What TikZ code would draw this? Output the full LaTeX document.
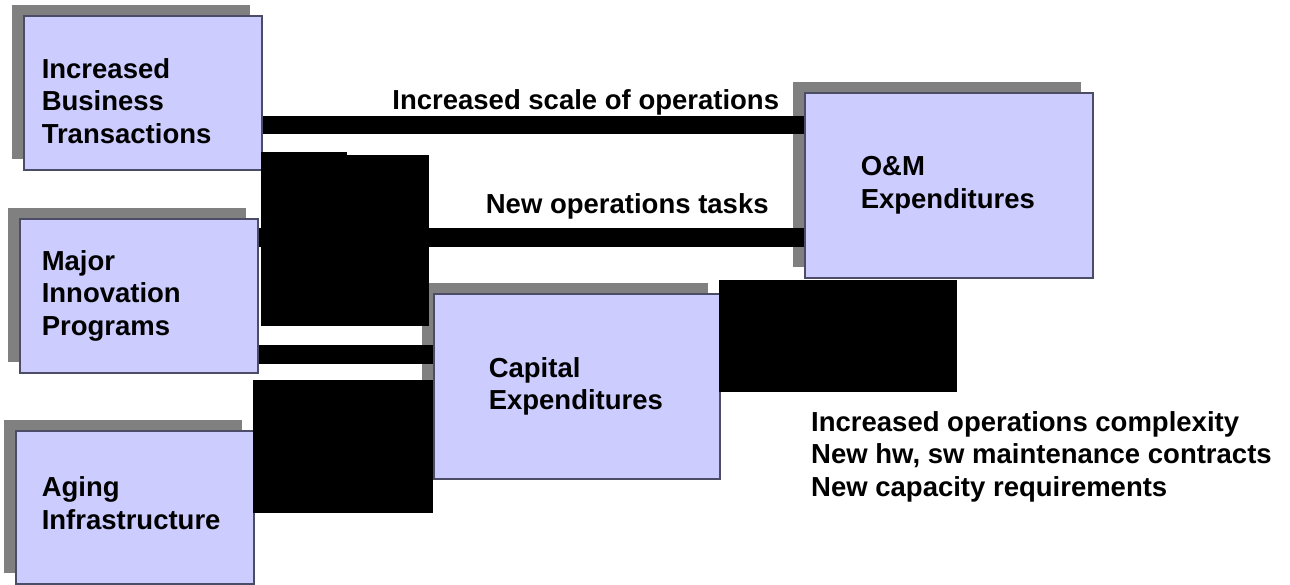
\documentclass[tikz,border=0pt]{standalone}
\usepackage{fontspec}
\setmainfont{Liberation Sans}
\usepackage{tikz}
\usetikzlibrary{shadows}
\usetikzlibrary{positioning}

\definecolor{boxfill}{HTML}{CCCCFF}
\definecolor{shadowgray}{HTML}{808080}
\definecolor{boxline}{HTML}{4C4C66}

\tikzset{
	factor/.style={rectangle, draw=boxline, line width=1.5pt, fill=boxfill,
		align=left, anchor=north west, inner ysep=0pt,
		font=\fontsize{27.5}{32.5}\selectfont\bfseries,
		drop shadow={shadow xshift=-12pt, shadow yshift=11pt, fill=shadowgray, opacity=1}},
	blob/.style={rectangle, fill=black, anchor=north west, inner sep=0pt},
	flow/.style={line width=18.5pt, black},
	lbl/.style={font=\fontsize{27.5}{32.5}\selectfont\bfseries, inner sep=0pt}
}

\begin{document}
\begin{tikzpicture}[x=1pt, y=-1pt]
			\useasboundingbox (0,0) rectangle (1290,584);
			
			% drivers
			\node[factor, minimum width=238pt, minimum height=154pt, text width=202pt, inner xsep=18pt] (ibt) at (23,15) {\rule{0pt}{36pt}Increased\\Business\\Transactions};
			\node[factor, minimum width=238pt, minimum height=154pt, text width=194pt, inner xsep=22pt] (mip) at (19,218) {Major\\Innovation\\Programs};
			\node[factor, minimum width=238pt, minimum height=153pt, text width=186pt, inner xsep=26pt] (aging) at (15,430) {Aging\\Infrastructure\rule[-8pt]{0pt}{0pt}};
			
			% expenditures
			\node[factor, minimum width=286pt, minimum height=185pt, text width=176pt, inner xsep=55pt] (capex) at (433,293) {Capital\\Expenditures};
			\node[factor, minimum width=288pt, minimum height=185pt, text width=176pt, inner xsep=56pt] (omex) at (804,92) {O\&M\\Expenditures};
			
			% black blocks
			\node[blob, minimum width=86pt, minimum height=174pt] (blobA) at (261,152) {};
			\node[blob, minimum width=82pt, minimum height=171pt] (blobB) at (347,155) {};
			\node[blob, minimum width=180pt, minimum height=133pt] (blobC) at (253,380) {};
			\node[blob, minimum width=238pt, minimum height=112pt] (blobD) at (719,280) {};
			
			\draw[flow] ([yshift=-32pt]ibt.east) -- node[lbl, pos=0.597, anchor=base, yshift=15pt] {Increased scale of operations} ([yshift=-32pt]ibt.east -| omex.west);
			\draw[flow] ([yshift=58.5pt]mip.east) -- node[lbl, pos=0.676, anchor=base, yshift=23.5pt] {New operations tasks} ([yshift=58.5pt]mip.east -| omex.west);
			\draw[flow] ([yshift=-58.5pt]mip.east) -- ([yshift=-58.5pt]mip.east -| capex.west);
			
			\node[lbl, align=left, anchor=north west] (notes) at (811,411) {Increased operations complexity\\New hw, sw maintenance contracts\\New capacity requirements};
		\end{tikzpicture}
\end{document}
